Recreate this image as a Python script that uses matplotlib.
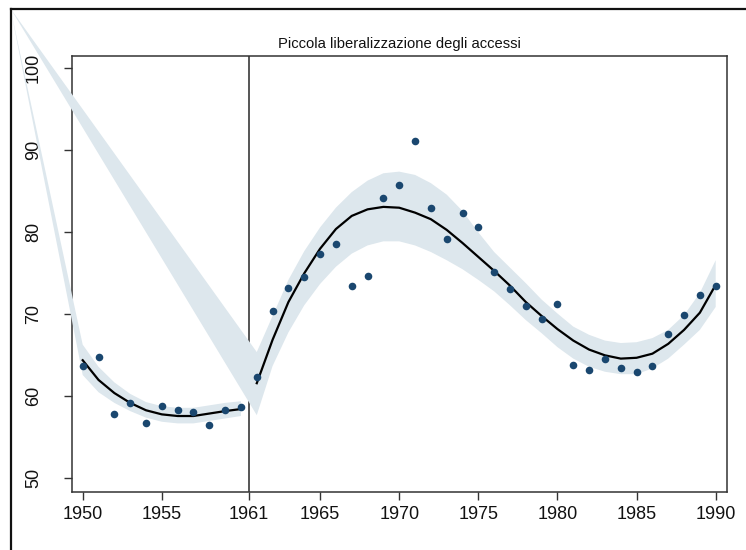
import matplotlib
matplotlib.use("Agg")
import matplotlib.pyplot as plt
from matplotlib.lines import Line2D
import numpy as np

plt.rcParams['font.family'] = ['Liberation Sans', 'DejaVu Sans']

title = "Piccola liberalizzazione degli accessi"

# observed values
years_pre = [1950, 1951, 1952, 1953, 1954, 1955, 1956, 1957, 1958, 1959, 1960]
obs_pre = [63.7, 64.8, 57.8, 59.2, 56.8, 58.8, 58.3, 58.1, 56.5, 58.3, 58.7]

years_post = list(range(1961, 1991))
obs_post = [62.4, 70.4, 73.2, 74.5, 77.4, 78.6, 73.5, 74.7, 84.2, 85.8,
            91.1, 83.0, 79.2, 82.3, 80.6, 75.2, 73.1, 71.05, 69.4, 71.2,
            63.8, 63.2, 64.5, 63.5, 63.0, 63.7, 67.6, 69.9, 72.4, 73.5]

# fitted curves and confidence bands
fit_pre = [64.4, 62.0, 60.4, 59.2, 58.3, 57.8, 57.6, 57.6, 57.9, 58.2, 58.45]
upper_pre = [66.3, 63.6, 61.7, 60.3, 59.3, 58.8, 58.6, 58.6, 58.9, 59.2, 59.4]
lower_pre = [62.6, 60.5, 59.2, 58.2, 57.4, 56.9, 56.7, 56.7, 57.0, 57.3, 57.6]

fit_post = [61.6, 66.9, 71.5, 75.0, 78.0, 80.4, 82.0, 82.8, 83.1, 83.0,
            82.4, 81.6, 80.3, 78.7, 77.0, 75.3, 73.5, 71.5, 69.8, 68.2,
            66.8, 65.7, 65.0, 64.6, 64.7, 65.2, 66.4, 68.1, 70.2, 73.6]
upper_post = [65.4, 69.8, 74.2, 77.7, 80.6, 83.0, 84.9, 86.3, 87.2, 87.4,
              87.0, 86.0, 84.6, 82.6, 80.0, 77.6, 75.7, 73.8, 71.8, 70.1,
              68.5, 67.5, 66.8, 66.5, 66.6, 67.1, 68.1, 69.9, 72.6, 76.6]
lower_post = [57.7, 63.7, 67.8, 71.1, 73.7, 75.8, 77.4, 78.4, 78.9, 78.9,
              78.4, 77.6, 76.6, 75.5, 74.2, 72.8, 71.1, 69.3, 67.7, 66.0,
              64.6, 63.6, 63.0, 62.7, 62.7, 63.4, 64.6, 66.3, 68.1, 70.9]

xtick_pos = [1950, 1955, 1960.5, 1965, 1970, 1975, 1980, 1985, 1990]
xtick_labels = ["1950", "1955", "1961", "1965", "1970", "1975", "1980", "1985", "1990"]
ytick_pos = [50, 60, 70, 80, 90, 100]
break_x = 1960.5

W, H = 746, 550
fig = plt.figure(figsize=(W / 100, H / 100), dpi=100)
ax = fig.add_axes([71.7 / W, 1 - 491.7 / H, (726.7 - 71.7) / W, (491.7 - 56) / H])
ax.set_xlim(1949.305, 1990.695)
ax.set_ylim(48.37, 101.5)

band_col = "#dde7ed"
pt_col = "#1a476f"
spine_col = "#333333"

# outer frame (left and top edges)
fx0, fy0 = 10.5 / W, 1 - 8.5 / H
fig.add_artist(Line2D([fx0, fx0], [0, fy0], transform=fig.transFigure, color="#111111", lw=1.6))
fig.add_artist(Line2D([fx0, 1], [fy0, fy0], transform=fig.transFigure, color="#111111", lw=1.6))

# vertical break line
ax.axvline(break_x, color="#555555", lw=1.4, zorder=2)

# corner anchor of the band polygons (frame corner) in data coords
fig.canvas.draw()
corner = ax.transData.inverted().transform(fig.transFigure.transform((fx0, fy0)))

def band_poly(xs, up, lo):
    px = [corner[0]] + list(xs) + list(xs[::-1]) + [corner[0]]
    py = [corner[1]] + list(up) + list(lo[::-1]) + [corner[1]]
    return px, py

for xs, up, lo in [(years_pre, upper_pre, lower_pre), (years_post, upper_post, lower_post)]:
    px, py = band_poly(xs, up, lo)
    ax.fill(px, py, color=band_col, lw=0, clip_on=False, zorder=2.6)

ax.plot(years_pre, fit_pre, color="black", lw=1.6, zorder=3.5)
ax.plot(years_post, fit_post, color="black", lw=1.6, zorder=3.5)
ax.scatter(years_pre, obs_pre, s=30, color=pt_col, lw=0, zorder=4)
ax.scatter(years_post, obs_post, s=30, color=pt_col, lw=0, zorder=4)

ax.set_xticks(xtick_pos)
ax.set_xticklabels(xtick_labels)
ax.set_yticks(ytick_pos)
ax.set_yticklabels([str(v) for v in ytick_pos], rotation=90, va="center")
ax.tick_params(axis="both", labelsize=13, length=5.5, width=1, color=spine_col, labelcolor="#111111")
ax.tick_params(axis="x", pad=5)
ax.tick_params(axis="y", pad=16)
for s in ax.spines.values():
    s.set_color(spine_col)
    s.set_linewidth(1.1)

ax.set_title(title, fontsize=10.6, pad=6, color="#111111")

fig.savefig("out.png", dpi=100)
